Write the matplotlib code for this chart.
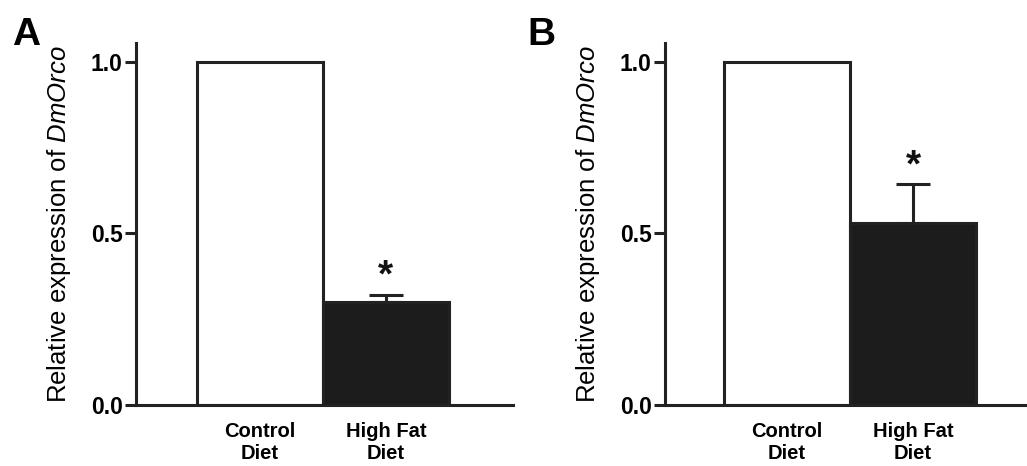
import matplotlib
matplotlib.use("Agg")
import matplotlib.pyplot as plt

categories = ["Control\nDiet", "High Fat\nDiet"]
values_A = [1.0, 0.30]
errors_A = [0.0, 0.022]
values_B = [1.0, 0.53]
errors_B = [0.0, 0.113]
yticks = [0.0, 0.5, 1.0]
ytick_labels = ["0.0", "0.5", "1.0"]
panel_labels = ["A", "B"]
bar_colors = ["white", "#1c1c1c"]
ylabel_text = r"Relative expression of $\mathit{DmOrco}$"

plt.rcParams["font.family"] = ["Liberation Sans", "DejaVu Sans"]
plt.rcParams["mathtext.fontset"] = "custom"
plt.rcParams["mathtext.it"] = "Liberation Sans:italic"
plt.rcParams["mathtext.rm"] = "Liberation Sans"

W, H = 1027, 466
fig = plt.figure(figsize=(W / 100, H / 100), dpi=100)

LC = "#222222"
LW = 2.2

def px_axes(l, r, t, b):
    return [l / W, 1 - b / H, (r - l) / W, (b - t) / H]

specs = [
    dict(rect=px_axes(136, 513, 43, 405), xlim=(-0.986, 2.01), vals=values_A, errs=errors_A,
         label_xy=(12, 45)),
    dict(rect=px_axes(665, 1027, 43, 405), xlim=(-0.968, 1.905), vals=values_B, errs=errors_B,
         label_xy=(527, 45)),
]

for spec, plabel in zip(specs, panel_labels):
    ax = fig.add_axes(spec["rect"])
    x = list(range(len(categories)))
    ax.bar(x, spec["vals"], width=1.0, color=bar_colors, edgecolor=LC, linewidth=LW, zorder=2)
    lower = [0 for _ in spec["errs"]]
    ax.errorbar(x[1:], spec["vals"][1:], yerr=[lower[1:], spec["errs"][1:]], fmt="none",
                ecolor=LC, elinewidth=LW, capsize=12, capthick=LW, zorder=3)
    top = spec["vals"][1] + spec["errs"][1]
    ax.annotate("*", xy=(x[1], top), xytext=(0, 0), textcoords="offset points",
                ha="center", va="bottom", fontsize=28, fontweight="bold", color="#111111")
    ax.set_xlim(*spec["xlim"])
    ax.set_ylim(0, 1.055)
    ax.set_yticks(yticks)
    ax.set_yticklabels(ytick_labels, fontsize=16.5, fontweight="bold")
    ax.set_xticks(x)
    ax.set_xticklabels(categories, fontsize=14.5, fontweight="bold", linespacing=1.25)
    ax.tick_params(axis="x", length=0, pad=12)
    ax.tick_params(axis="y", length=8, width=LW, color=LC, pad=1.5, direction="out")
    for s in ["top", "right"]:
        ax.spines[s].set_visible(False)
    for s in ["left", "bottom"]:
        ax.spines[s].set_linewidth(LW)
        ax.spines[s].set_color(LC)
    ax.set_ylabel(ylabel_text, fontsize=18.5, labelpad=13)
    fig.text(spec["label_xy"][0] / W, 1 - spec["label_xy"][1] / H, plabel,
             fontsize=28, fontweight="bold", ha="left", va="baseline")

fig.savefig("out.png", dpi=100)
